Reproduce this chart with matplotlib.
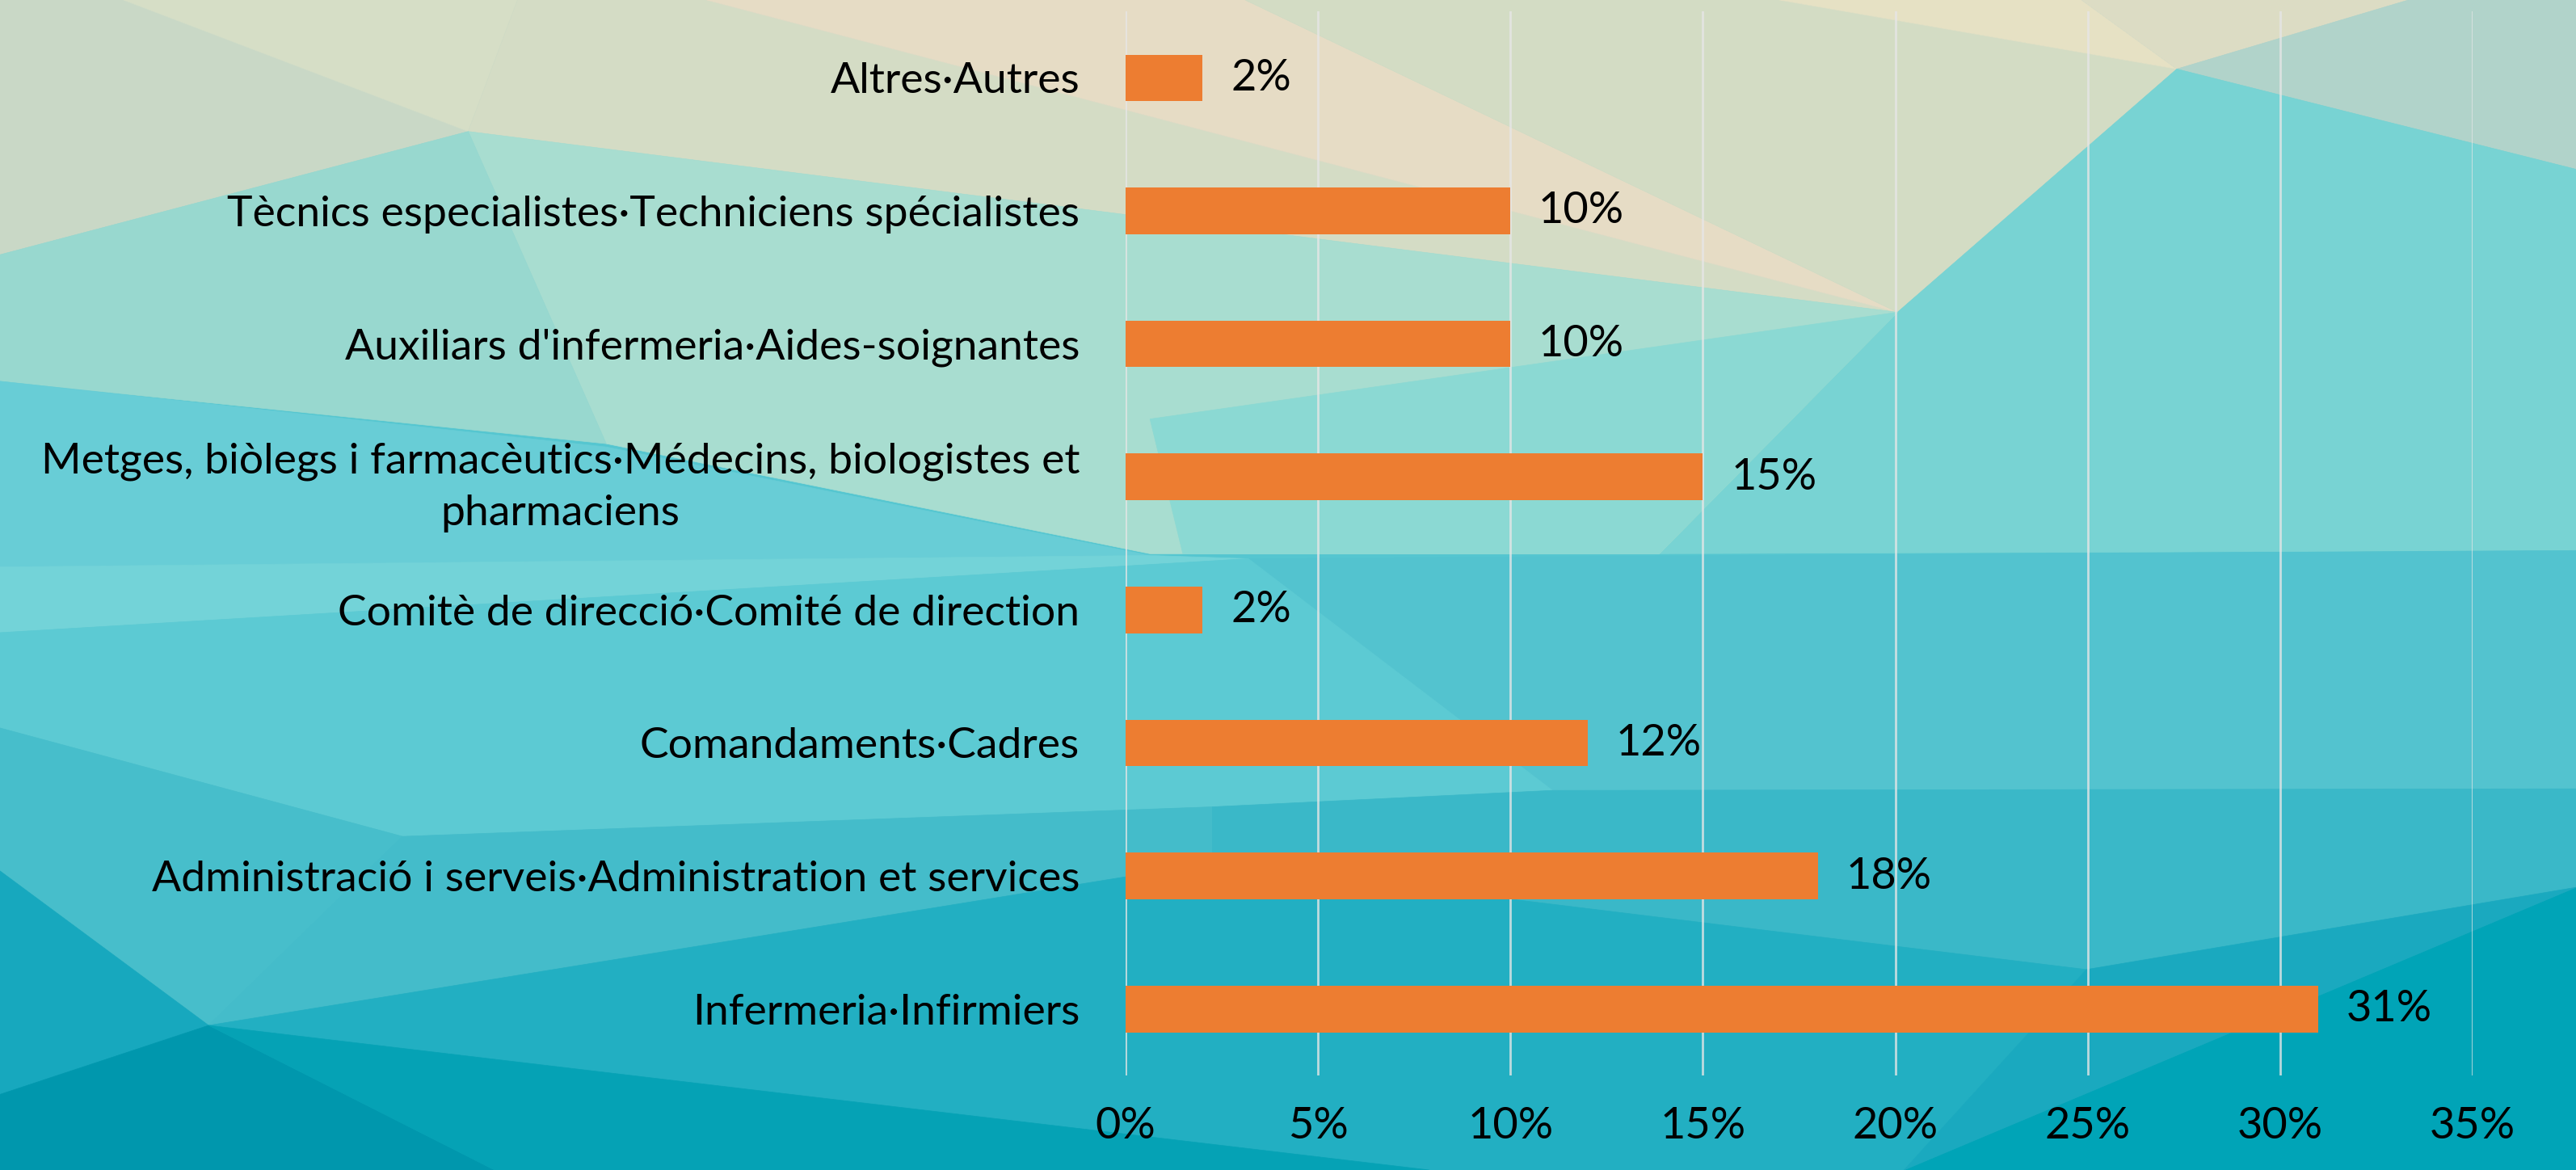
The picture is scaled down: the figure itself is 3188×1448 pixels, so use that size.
import matplotlib.pyplot as plt
from matplotlib.patches import Polygon
from matplotlib.ticker import FuncFormatter

# data (bottom to top as drawn)
categories = [
    "Infermeria·Infirmiers",
    "Administració i serveis·Administration et services",
    "Comandaments·Cadres",
    "Comitè de direcció·Comité de direction",
    "Metges, biòlegs i farmacèutics·Médecins, biologistes et\npharmaciens",
    "Auxiliars d'infermeria·Aides-soignantes",
    "Tècnics especialistes·Techniciens spécialistes",
    "Altres·Autres",
]
values = [31, 18, 12, 2, 15, 10, 10, 2]
xticks = [0, 5, 10, 15, 20, 25, 30, 35]

BAR_COLOR = "#ED7D31"
FONT = ["Lato", "DejaVu Sans"]

# low-poly backdrop, in a 1568x712 design grid (decoration only)
backdrop = [
    ("#55C6D0", [(0, 0), (1568, 0), (1568, 712), (0, 712)]),
    ("#C9D8C6", [(0, 0), (75, 0), (285, 80), (0, 155)]),
    ("#D6DEC6", [(75, 0), (315, 0), (285, 80)]),
    ("#D4DCC5", [(315, 0), (430, 0), (1155, 190), (285, 80)]),
    ("#E6DCC5", [(430, 0), (758, 0), (1155, 190)]),
    ("#D3DCC4", [(758, 0), (1083, 0), (1325, 42), (1155, 190)]),
    ("#E6E1C4", [(1083, 0), (1267, 0), (1325, 42)]),
    ("#DCDCC4", [(1267, 0), (1466, 0), (1325, 42)]),
    ("#B1D3CA", [(1466, 0), (1568, 0), (1568, 103), (1325, 42)]),
    ("#78D3D3", [(1325, 42), (1568, 103), (1568, 335), (1010, 337), (1155, 190)]),
    ("#A8DDD0", [(285, 80), (1155, 190), (1010, 337), (700, 337), (369, 270)]),
    ("#8BD9D3", [(1155, 190), (1010, 337), (720, 337), (700, 255)]),
    ("#98D8CF", [(0, 155), (285, 80), (369, 270), (0, 232)]),
    ("#68CDD6", [(0, 232), (369, 272), (700, 338), (0, 345)]),
    ("#73D3D8", [(0, 345), (700, 338), (760, 340), (0, 385)]),
    ("#53C3CF", [(760, 340), (1568, 335), (1568, 480), (945, 481)]),
    ("#5CCAD3", [(0, 385), (760, 340), (945, 481), (738, 491), (245, 509), (0, 443)]),
    ("#47BECB", [(0, 443), (245, 509), (127, 624), (0, 530)]),
    ("#44BCCA", [(245, 509), (738, 491), (738, 525), (127, 624)]),
    ("#3AB8C8", [(738, 491), (945, 481), (1568, 480), (1568, 540), (1270, 590), (738, 525)]),
    ("#22AFC2", [(127, 624), (738, 525), (1270, 590), (1159, 712), (870, 712)]),
    ("#00A4B7", [(1568, 540), (1159, 712), (1568, 712)]),
    ("#1AA9BF", [(1270, 590), (1568, 540), (1159, 712)]),
    ("#17A8BE", [(0, 530), (127, 624), (0, 666)]),
    ("#0097AD", [(0, 666), (127, 624), (301, 712), (0, 712)]),
    ("#05A2B5", [(127, 624), (870, 712), (301, 712)]),
]

fig = plt.figure(figsize=(31.88, 14.48), dpi=100)

bg = fig.add_axes([0, 0, 1, 1], zorder=0)
bg.set_xlim(0, 1568)
bg.set_ylim(712, 0)
bg.axis("off")
for color, pts in backdrop:
    bg.add_patch(Polygon(pts, closed=True, facecolor=color, edgecolor=color, linewidth=0.5))

ax = fig.add_axes([0.437, 0.0808, 0.5228, 0.9095], zorder=1)
ax.set_facecolor("none")

ypos = range(len(categories))
ax.barh(ypos, values, height=0.35, color=BAR_COLOR, zorder=3)

for y, v in zip(ypos, values):
    ax.annotate(f"{v}%", xy=(v, y), xytext=(25, 0), textcoords="offset points",
                va="center", ha="left", fontsize=39, family=FONT, color="black")

ax.set_xlim(0, 35)
ax.set_ylim(-0.5, len(categories) - 0.5)
ax.set_xticks(xticks)
ax.xaxis.set_major_formatter(FuncFormatter(lambda x, _: f"{x:.0f}%"))
ax.set_yticks(list(ypos))
ax.set_yticklabels(categories)

ax.grid(axis="x", color="#E6E6E6", alpha=0.8, linewidth=2.0, zorder=1)
ax.set_axisbelow(True)
for s in ax.spines.values():
    s.set_visible(False)

ax.tick_params(axis="both", length=0)
ax.tick_params(axis="x", pad=27)
ax.tick_params(axis="y", pad=41)
for lbl in ax.get_xticklabels():
    lbl.set_fontsize(39)
    lbl.set_family(FONT)
    lbl.set_color("black")
for lbl in ax.get_yticklabels():
    lbl.set_fontsize(38.5)
    lbl.set_family(FONT)
    lbl.set_color("black")
    lbl.set_multialignment("center")
    lbl.set_linespacing(1.45)

fig.savefig("out.png", dpi=100)
